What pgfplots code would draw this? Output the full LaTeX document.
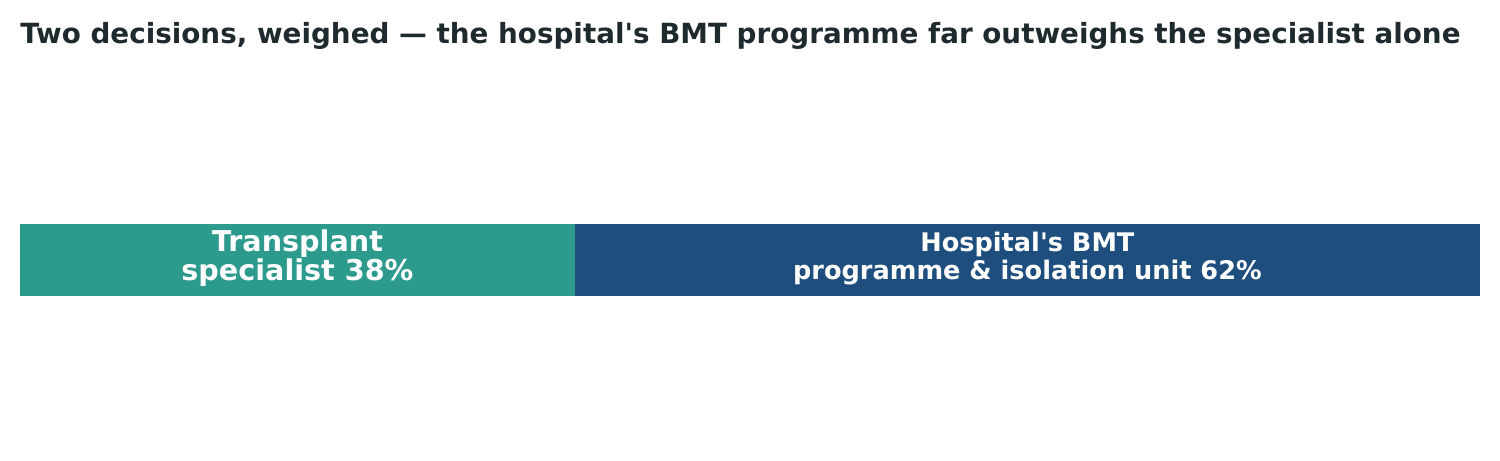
\documentclass[border=0pt]{standalone}
\usepackage{pgfplots}
\pgfplotsset{compat=1.18}
\usepackage{fontspec}
\setmainfont{DejaVu Sans}
\definecolor{teal}{HTML}{2C9A8C}
\definecolor{navy}{HTML}{1D4E7E}
\definecolor{ink}{HTML}{1E2A2E}
\begin{document}
\begin{tikzpicture}[x=1bp,y=1bp]
\useasboundingbox (0,0) rectangle (1080,331.2);
% title
\node[anchor=base west, inner sep=0pt, text=ink, font=\fontsize{20.08}{24}\selectfont\bfseries]
  at (14.4,300.2) {Two decisions, weighed --- the hospital\textquotesingle s BMT programme far outweighs the specialist alone};
\begin{axis}[
    at={(14.4bp,118.08bp)}, anchor=south west,
    scale only axis,
    width=1051.2bp, height=51.84bp,
    xbar stacked,
    xmin=0, xmax=100,
    ymin=-0.5, ymax=0.5,
    bar width=51.84bp,
    hide axis,
    clip=false,
]
\addplot[fill=teal, draw=none] coordinates {(38,0)};
\addplot[fill=navy, draw=none] coordinates {(62,0)};
\coordinate (lab1) at (axis cs:19,0);
\coordinate (lab2) at (axis cs:69,0);
\end{axis}
\node[align=center, text=white, inner sep=0pt, yshift=1.5bp, font=\fontsize{20.7}{21.1}\selectfont\bfseries]
  at (lab1) {Transplant\\specialist 38\%};
\node[align=center, text=white, inner sep=0pt, yshift=1bp, font=\fontsize{18.5}{20.4}\selectfont\bfseries]
  at (lab2) {Hospital\textquotesingle s BMT\\programme \& isolation unit 62\%};
\end{tikzpicture}
\end{document}
